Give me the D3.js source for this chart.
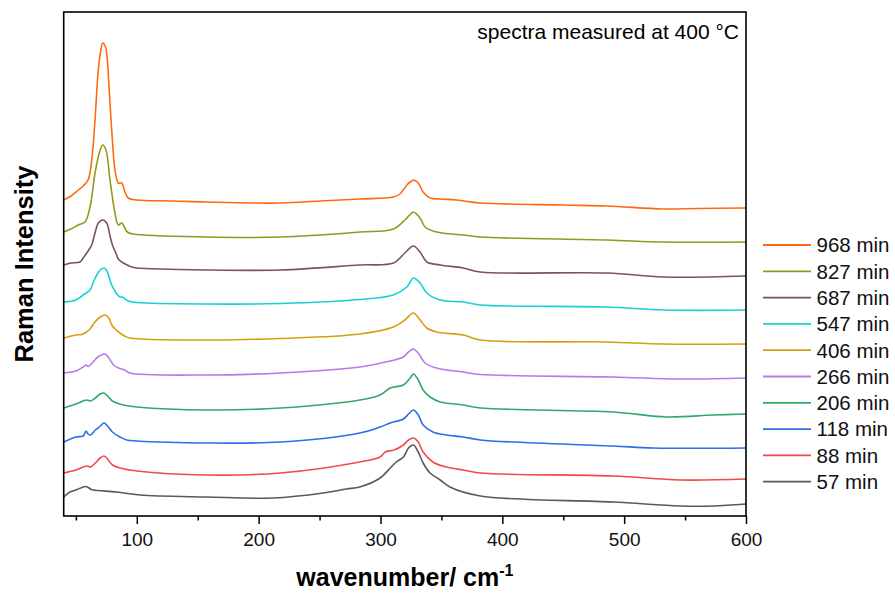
<!DOCTYPE html>
<html><head><meta charset="utf-8">
<script src="https://cdn.jsdelivr.net/npm/d3@7/dist/d3.min.js"></script>
<style>body{margin:0;background:#fff} text{font-family:"Liberation Sans",Arial,sans-serif;}</style>
</head><body><svg id="c" width="895" height="596"></svg>
<script>
// ---- data (wavenumber cm^-1, intensity a.u.) ----
const s968 = [[40,316],[46,320],[52,326],[56,330],[60,336],[63,356],[65.7,396],[68.4,446],[70.5,466],[72,473],[74,470],[75.3,463],[77.2,429],[79.4,386],[82.1,346],[84.8,333],[87.6,333],[90.3,324],[93,318],[100,316],[130,315],[157,314],[218,313],[250,315],[283,317],[310.6,319],[316,322],[321.6,331],[324.4,334],[327,336],[331,333],[335,324],[340.7,318],[349,317],[362.6,316],[382,313],[450,311],[486,310],[532,307],[560,307.5],[600,308]];
const s827 = [[40,284],[46,287],[52,291],[57.5,294],[61.6,309],[65.7,343],[68.4,359],[70.5,368],[72,371],[74.7,366],[78,336],[82.1,303],[84.8,291],[87.6,293],[92.2,284],[97,282],[157,279],[218,279],[283,284],[310.6,287],[320,296],[324,301],[327,304],[332.5,298],[336.6,289],[346,284],[368,281],[382,279],[486,276],[532,274],[600,274]];
const s687 = [[40,251],[46,253],[53.4,254],[56,258],[58.9,263],[61.6,268],[63,271],[65.7,283],[68.4,293],[72,296],[75.3,293],[78,280],[80,271],[83.5,261],[84.8,257],[87.6,254],[92,251],[95.8,249],[100,248],[157,246],[218,246],[283,251],[310.6,253],[320,263],[327,270],[332.5,264],[338,254],[349,251],[368,248],[382,244],[486,243],[532,239],[600,240]];
const s547 = [[40,214],[50,216],[56,221],[61.6,226],[64,233],[67.1,241],[70,246],[73,248],[75,246],[79.4,231],[83,223],[86.2,219],[88,219],[92.8,215],[100,213.5],[157.6,212],[218,212.5],[283,216.5],[310.6,221],[321.6,229],[327,238],[332.5,233],[338,223],[349,216],[368,214],[382,211],[486,209],[532,206],[600,206]];
const s406 = [[40,178],[50,181],[56,182],[61.6,187],[65,193],[70,199],[73.9,201],[77,198],[80,190],[86.2,183],[90,180],[94.4,178],[157.6,176],[218,177.5],[283,182],[310.6,189],[320,196],[327,203],[332.5,196],[338,188],[346,184],[368,181],[382,176],[486,174],[532,172],[600,172]];
const s266 = [[40,143],[50,145],[56,149],[58.5,151],[60,149.5],[64,154],[68,159],[72,161.5],[74,162],[77,158],[81,151],[85,148],[90,146],[94.4,143],[157.6,141],[218,143],[283,149],[308,155],[318.8,159],[323,164],[327,167],[331,163],[336.6,153],[346,148],[368,144],[382,141.5],[491,139],[546,137],[600,138]];
const s206 = [[40,108],[50,112],[58.9,116],[62,115],[66,118],[70,122],[73,123],[76,120],[80,115],[88.9,111],[100,109],[157.6,106],[218,108],[283,116],[299.7,121],[308,128],[318.8,131],[324.4,138],[327,142],[331,136],[335,126],[340.7,119],[349,114],[368,111],[382,108],[491,104],[535,99],[573,101],[600,102]];
const s118 = [[40,74],[50,79],[56,80],[58.3,85],[60,82],[62,81],[66,86],[70,90],[73.1,93],[76,90],[80,84],[86.2,79],[91.7,76],[100,75],[157.6,73],[218,74],[283,83],[299.7,89],[308,93],[318.8,97],[323,102],[327,106],[331,101],[335,91],[343,84],[354,81],[368,79],[382,76],[491,70],[524,68],[600,68]];
const s88 = [[40,43],[50,46],[58.9,50],[62,49],[66,53],[70,58],[73.1,60],[76,57],[80,51],[86.2,48],[100,45],[157.6,41],[218,43],[283,54],[299.7,59],[304,64],[311,66],[318.8,71],[323,76],[327,78],[331,74],[335,64],[343,54],[354,49],[368,46],[382,43],[491,40],[546,36],[600,37]];
const s57 = [[40,19],[45,24],[50,26],[58.3,29.5],[62,27],[64.3,26],[83.5,24],[102.6,21],[157.4,19],[212,18],[253,23],[272,27],[283,29],[299.7,38],[308,48],[313,54],[318.8,59],[323,68],[327,71],[331,64],[335,53],[340.7,43],[349,36],[357,29],[382,20],[491,14],[546,10],[573,10],[600,12]];

const labels = ["968 min","827 min","687 min","547 min","406 min","266 min","206 min","118 min","88 min","57 min"];
const colors = ["#ff6a10","#94991c","#7d5353","#19d0d4","#d3a10f","#b77ae6","#33a86a","#2b6fe6","#f24a4a","#5a5a5a"];
const spectra = [s968,s827,s687,s547,s406,s266,s206,s118,s88,s57];
const xMajor = [100,200,300,400,500,600];
const xMinor = [50,150,250,350,450,550];
const xDomain = [40,600];
const yDomain = [0,504];

// ---- chart ----
const svg = d3.select("#c");
const L = 63.7, R = 746, T = 12, B = 516;
const x = d3.scaleLinear().domain(xDomain).range([L,R]);
const y = d3.scaleLinear().domain(yDomain).range([B,T]);

const line = d3.line().x(d=>x(d[0])).y(d=>y(d[1])).curve(d3.curveCatmullRom.alpha(0.5));
const g = svg.append("g");
spectra.slice().reverse().forEach((s,i)=>{
  const idx = spectra.length-1-i;
  g.append("path").datum(s).attr("d",line).attr("fill","none")
   .attr("stroke",colors[idx]).attr("stroke-width",1.6).attr("stroke-linejoin","round");
});

// frame
svg.append("rect").attr("x",L).attr("y",T).attr("width",R-L).attr("height",B-T)
  .attr("fill","none").attr("stroke","#000").attr("stroke-width",1.6);

// axes
const ax = svg.append("g").attr("transform",`translate(0,${B})`)
  .call(d3.axisBottom(x).tickValues(xMajor).tickSize(8).tickPadding(9).tickSizeOuter(0));
ax.select(".domain").remove();
ax.selectAll("line").attr("stroke","#000").attr("stroke-width",1.5);
ax.selectAll("text").attr("font-size",19).attr("fill","#111").style("font-family","'Liberation Sans',Arial,sans-serif");
const axm = svg.append("g").attr("transform",`translate(0,${B})`)
  .call(d3.axisBottom(x).tickValues(xMinor).tickSize(4.5).tickFormat("").tickSizeOuter(0));
axm.select(".domain").remove();
axm.selectAll("line").attr("stroke","#000").attr("stroke-width",1.5);

// axis titles
const xt = svg.append("text").attr("x",(L+R)/2).attr("y",585.5).attr("text-anchor","middle")
  .attr("font-size",25).attr("font-weight","bold").attr("fill","#000");
xt.append("tspan").text("wavenumber/ cm");
xt.append("tspan").attr("dy",-10).attr("font-size",16).text("-1");

svg.append("text").attr("transform",`translate(33,${(T+B)/2}) rotate(-90)`)
  .attr("text-anchor","middle").attr("font-size",25.5).attr("font-weight","bold").attr("fill","#000")
  .text("Raman Intensity");

// annotation
svg.append("text").attr("x",739).attr("y",38.5).attr("text-anchor","end")
  .attr("font-size",21).attr("fill","#000").text("spectra measured at 400 °C");

// legend
const lg = svg.append("g");
labels.forEach((lab,i)=>{
  const yy = 245 + i*26.3;
  lg.append("line").attr("x1",763).attr("x2",811).attr("y1",yy).attr("y2",yy)
    .attr("stroke",colors[i]).attr("stroke-width",1.8);
  lg.append("text").attr("x",816.5).attr("y",yy+7.3).attr("font-size",20.5).attr("fill","#111").text(lab);
});
</script></body></html>
